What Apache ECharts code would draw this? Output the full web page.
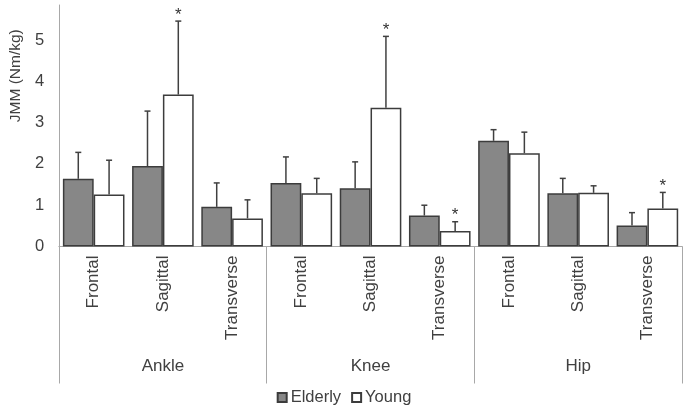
<!DOCTYPE html>
<html>
<head>
<meta charset="utf-8">
<script src="https://cdn.jsdelivr.net/npm/echarts@6/dist/echarts.min.js"></script>
<style>html,body{margin:0;padding:0;background:#fff}#c{width:688px;height:417px}</style>
</head>
<body>
<div id="c"></div>
<script>
const planes = ['Frontal','Sagittal','Transverse','Frontal','Sagittal','Transverse','Frontal','Sagittal','Transverse'];
const joints = ['Ankle','Knee','Hip'];
const elderly = [1.64, 1.95, 0.96, 1.54, 1.41, 0.75, 2.56, 1.29, 0.51];
const elderlySD = [0.64, 1.33, 0.58, 0.63, 0.64, 0.25, 0.27, 0.36, 0.31];
const young = [1.26, 3.68, 0.68, 1.29, 3.36, 0.375, 2.26, 1.30, 0.92];
const youngSD = [0.83, 1.78, 0.45, 0.36, 1.73, 0.225, 0.51, 0.17, 0.39];
const youngSig = [0, 1, 0, 0, 1, 1, 0, 0, 1];
const elderlySig = [0, 0, 0, 0, 0, 0, 0, 0, 0];

const FONT = 'Liberation Sans';
const TXT = '#404040';
const AX = '#a8a8a8';
const GAP = 0.11;

function errSeries(means, sds, sigs, sign) {
  return {
    type: 'custom',
    xAxisIndex: 0,
    z: 5,
    silent: true,
    data: means.map((m, i) => [i, m, sds[i], sigs[i]]),
    encode: { x: 0, y: 1 },
    renderItem: function (params, api) {
      const idx = api.value(0), mean = api.value(1), sd = api.value(2), sig = api.value(3);
      const base = api.coord([idx, mean]);
      const top = api.coord([idx, mean + sd]);
      const bw = api.size([1, 0])[0];
      const barW = bw * (1 - GAP) / 2;
      const x = base[0] + sign * barW / 2;
      const st = { stroke: '#404040', lineWidth: 1.5 };
      const children = [
        { type: 'line', shape: { x1: x, y1: base[1], x2: x, y2: top[1] }, style: st },
        { type: 'line', shape: { x1: x - 3, y1: top[1], x2: x + 3, y2: top[1] }, style: st }
      ];
      if (sig) {
        children.push({ type: 'text', style: { text: '*', x: x, y: top[1] - 6, align: 'center', verticalAlign: 'middle', fontSize: 17, fontFamily: FONT, fill: '#333' } });
      }
      return { type: 'group', children: children };
    }
  };
}

const chart = echarts.init(document.getElementById('c'), null, { renderer: 'canvas' });
chart.setOption({
  animation: false,
  backgroundColor: '#fff',
  textStyle: { fontFamily: FONT },
  grid: { left: 57, right: 6, top: 5, bottom: 170.5, containLabel: false },
  legend: {
    data: ['Elderly', 'Young'],
    bottom: 6,
    left: 'center',
    icon: 'rect',
    itemWidth: 9,
    itemHeight: 9,
    itemGap: 10,
    textStyle: { fontSize: 16.5, color: TXT, fontFamily: FONT, padding: [0, 0, 0, -1] }
  },
  xAxis: [
    {
      type: 'category',
      data: planes,
      position: 'bottom',
      axisLine: { show: true, lineStyle: { color: AX, width: 1 } },
      axisTick: { show: false },
      axisLabel: { rotate: 90, interval: 0, margin: 9, fontSize: 17, color: TXT, fontFamily: FONT }
    },
    {
      type: 'category',
      data: joints,
      position: 'bottom',
      offset: 0,
      axisLine: { show: true, lineStyle: { color: AX, width: 1 } },
      axisTick: { show: true, length: 137, interval: 0, lineStyle: { color: AX, width: 1 } },
      axisLabel: { interval: 0, margin: 111, fontSize: 17, color: TXT, fontFamily: FONT }
    }
  ],
  yAxis: {
    type: 'value',
    min: 0,
    max: 5.85,
    interval: 1,
    name: 'JMM (Nm/kg)',
    nameLocation: 'middle',
    nameRotate: 90,
    nameGap: 35,
    nameTextStyle: { fontSize: 15.5, color: TXT, fontFamily: FONT, padding: [0, 0, 0, 100] },
    axisLine: { show: true, lineStyle: { color: AX, width: 1 } },
    axisTick: { show: false },
    splitLine: { show: false },
    axisLabel: { fontSize: 16.5, color: TXT, margin: 15, fontFamily: FONT, showMaxLabel: false }
  },
  series: [
    {
      name: 'Elderly', type: 'bar', xAxisIndex: 0, data: elderly,
      barGap: '0%', barCategoryGap: (GAP * 100) + '%',
      itemStyle: { color: '#878787', borderColor: '#3c3c3c', borderWidth: 1.5 }
    },
    {
      name: 'Young', type: 'bar', xAxisIndex: 0, data: young,
      barGap: '0%', barCategoryGap: (GAP * 100) + '%',
      itemStyle: { color: '#ffffff', borderColor: '#3c3c3c', borderWidth: 1.5 }
    },
    errSeries(elderly, elderlySD, elderlySig, -1),
    errSeries(young, youngSD, youngSig, 1)
  ]
});
</script>
</body>
</html>
